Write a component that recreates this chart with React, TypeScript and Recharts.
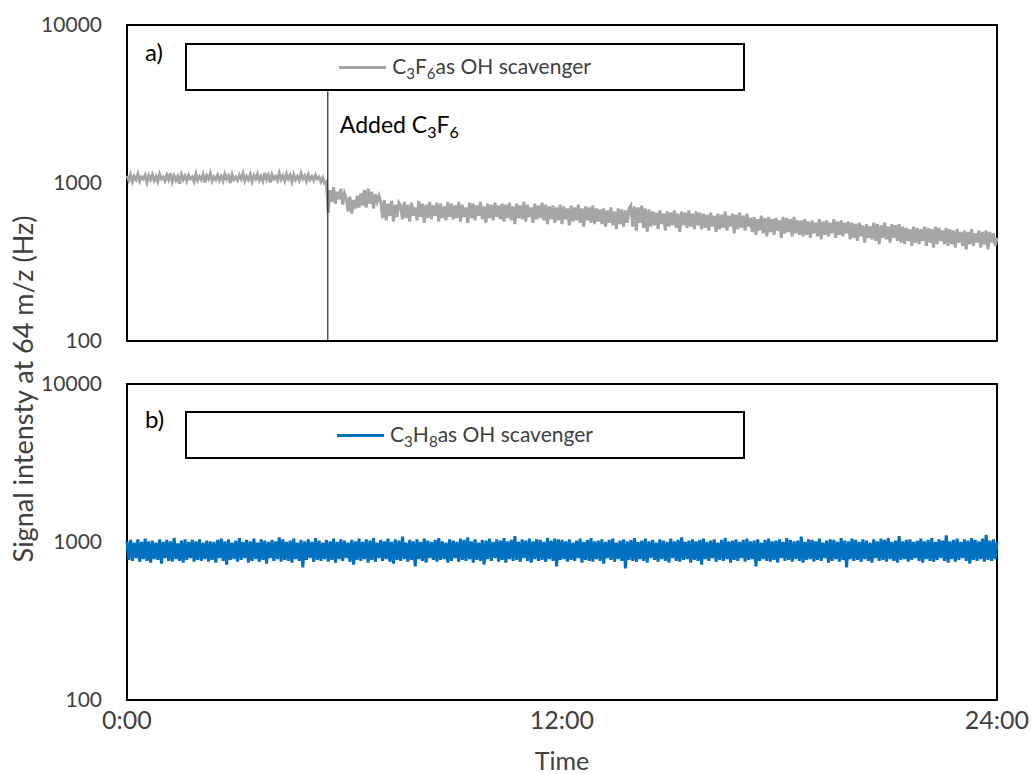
import {
  LineChart,
  Line,
  XAxis,
  YAxis,
  ReferenceArea,
  ReferenceLine,
  Legend,
} from "recharts";

const FONT = "Lato, 'Liberation Sans', sans-serif";

// sampling step of both runs, hours
const sampleStep = 0.05;
const timeTicks = [0, 12, 24];
const yTicks = [100, 1000, 10000];
const addedAt = 5.54; // time C3F6 was added

// a) C3F6 as OH scavenger, Hz
const c3f6Signal = [
  1110, 1040, 1130, 1020, 1100, 1050, 1140, 1030, 1090, 1060,
  1120, 1010, 1110, 1050, 1130, 1040, 1100, 1020, 1140, 1060,
  1090, 1030, 1120, 1050, 1150, 1020, 1110, 1040, 1100, 990,
  1130, 1050, 1110, 1030, 1120, 1060, 1090, 1020, 1140, 1040,
  1100, 1050, 1130, 1010, 1110, 1060, 1150, 1030, 1090, 1050,
  1120, 1040, 1100, 1030, 1140, 1060, 1110, 1000, 1130, 1050,
  1090, 1040, 1120, 1060, 1150, 1030, 1100, 1050, 1130, 1020,
  1110, 1060, 1140, 1040, 1100, 1030, 1160, 1050, 1120, 1010,
  1130, 1060, 1100, 1040, 1150, 1050, 1110, 1030, 1140, 1060,
  1120, 1020, 1130, 1050, 1100, 1040, 1150, 1060, 1110, 1030,
  1130, 1050, 1100, 1040, 1120, 1060, 1090, 1020, 1080, 1000,
  1020,
  650,
  900, 760, 940, 740, 880, 790, 920, 730, 860,
  800, 660, 820, 640, 780, 690, 830, 700,
  860, 720, 900, 700, 920, 740, 880, 690, 850, 760, 830,
  760, 600, 780, 580, 740, 620, 770, 570, 730, 610, 750,
  720, 590, 760, 600, 730, 570, 750, 620, 700, 580,
  770, 610, 740, 560, 730, 600, 760, 590, 720, 620,
  750, 570, 740, 600, 710, 580, 760, 610,
  740, 590, 720, 600, 760, 570, 730, 610, 700, 560,
  750, 600, 740, 580, 720, 620, 760, 590, 710, 560,
  740, 600, 730, 580, 750, 610, 720,
  590, 740, 570, 730, 600, 750, 580, 710, 550, 740,
  600, 720, 590, 760, 570, 730, 610, 700, 560, 740,
  590, 720, 600, 750, 580, 730, 550, 710,
  590, 720, 560, 700, 580, 730, 550, 710, 590, 690,
  540, 720, 570, 700, 580, 730, 560, 690, 530, 710,
  580, 700, 560, 720, 550, 690, 570,
  680, 550, 690, 530, 670, 560, 700, 540, 660, 510,
  690, 550, 680, 530, 670, 560, 690,
  720, 530, 710, 500, 700, 560, 720, 520, 690, 490, 680,
  530, 660, 540, 650, 510, 670, 550, 640, 500, 660,
  530, 650, 540, 670, 520, 640, 490, 660, 540, 650,
  520, 670, 530, 640, 510, 660, 540, 650,
  510, 640, 520, 630, 500, 650, 530, 620, 490, 640,
  510, 630, 520, 660, 500, 620, 530, 640, 480, 630,
  510, 650, 520, 620, 500, 640, 530,
  600, 490, 610, 470, 590, 500, 620, 480, 600, 460,
  610, 490, 590, 470, 600, 500, 580, 450, 610, 480,
  600, 490, 590, 460, 610, 480, 580, 470,
  580, 460, 590, 470, 570, 450, 580, 480, 560, 460,
  590, 440, 570, 470, 580, 460, 560, 480, 590, 450,
  570, 470, 580, 460, 560, 480, 570,
  440, 560, 450, 550, 430, 560, 460, 540, 420, 550,
  450, 530, 440, 560, 430, 550, 410, 540, 450, 560,
  440, 530, 420, 550, 450, 540, 430, 550,
  420, 530, 410, 520, 430, 510, 400, 530, 420, 520,
  410, 510, 430, 530, 400, 520, 420, 510, 390, 530,
  410, 520, 430, 500, 410, 520, 400, 510,
  410, 500, 390, 510, 420, 490, 400, 500, 380, 490,
  410, 510, 400, 480, 420, 500, 390, 490, 410, 500,
  380, 490, 420, 480, 400, 450,
];

// b) C3H8 as OH scavenger, Hz
const c3h8Signal = [
  1010, 770, 1030, 760, 990, 790, 1040, 750, 1000, 780,
  1050, 760, 1010, 740, 1020, 780, 990, 770, 1040, 730,
  1000, 790, 1030, 760, 1010, 750, 1060, 780, 980, 760,
  1020, 740, 1040, 770, 1000, 790, 1030, 750, 1010, 770,
  1040, 760, 990, 780, 1020, 750, 1010, 770, 1000, 740,
  1030, 790, 1050, 760, 1010, 720, 1040, 770, 990, 780,
  1020, 750, 1060, 770, 1000, 790, 1030, 740, 1010, 760,
  1050, 780, 990, 750, 1040, 770, 1020, 730, 1000, 790,
  1030, 760, 1010, 780, 1070, 750, 1040, 770, 1000, 760,
  1020, 740, 1050, 780, 990, 760, 1030, 690, 1010, 770,
  1040, 790, 1000, 750, 1060, 770, 1020, 760, 990, 780,
  1030, 750, 1010, 770, 1050, 740, 1000, 780, 1040, 760,
  1020, 790, 990, 750, 1030, 720, 1010, 770, 1050, 760,
  1000, 780, 1040, 740, 1020, 770, 1060, 750, 990, 790,
  1030, 760, 1010, 780, 1050, 750, 1000, 730, 1040, 770,
  1020, 760, 1080, 780, 990, 750, 1030, 770, 1010, 700,
  1040, 780, 1000, 760, 1050, 740, 1020, 790, 1000, 770,
  1030, 750, 1060, 770, 1010, 780, 990, 740, 1040, 760,
  1020, 790, 1000, 750, 1050, 770, 1030, 760, 1070, 780,
  1010, 740, 1040, 770, 990, 760, 1030, 720, 1020, 780,
  1050, 760, 1000, 790, 1040, 750, 1020, 770, 1060, 740,
  1010, 780, 1030, 760, 1090, 770, 1000, 750, 1040, 790,
  1020, 760, 1050, 740, 1010, 780, 1040, 760, 1030, 770,
  1000, 750, 1060, 780, 1020, 760, 1050, 700, 1040, 770,
  1030, 780, 1010, 750, 1040, 770, 990, 760, 1020, 790,
  1050, 740, 1000, 770, 1030, 760, 1060, 750, 1010, 780,
  1020, 760, 1040, 730, 1000, 790, 1030, 770, 1050, 750,
  990, 780, 1020, 760, 1040, 680, 1010, 770, 1030, 760,
  1060, 750, 1000, 780, 1020, 760, 1050, 740, 1010, 790,
  1030, 770, 990, 750, 1040, 780, 1020, 760, 1000, 740,
  1050, 790, 1010, 760, 1030, 750, 1070, 770, 1000, 780,
  1020, 740, 1040, 770, 1010, 760, 1030, 720, 1050, 780,
  1000, 760, 1020, 790, 1040, 750, 990, 770, 1030, 760,
  1060, 780, 1010, 740, 1020, 770, 1040, 760, 1000, 790,
  1030, 750, 1050, 770, 1010, 780, 1020, 700, 1040, 760,
  990, 780, 1030, 760, 1050, 750, 1010, 770, 1020, 740,
  1040, 790, 1000, 760, 1060, 770, 1030, 750, 1010, 780,
  1020, 760, 1080, 740, 1000, 770, 1040, 780, 1030, 750,
  1010, 770, 1050, 760, 990, 790, 1020, 740, 1040, 760,
  1030, 780, 1000, 750, 1060, 770, 1020, 690, 1010, 780,
  1050, 760, 1030, 770, 1000, 750, 1040, 780, 1020, 760,
  990, 740, 1040, 790, 1010, 760, 1050, 770, 1030, 750,
  1060, 780, 1000, 760, 1020, 740, 1090, 770, 1010, 780,
  1030, 750, 1040, 770, 1000, 790, 1020, 760, 1050, 740,
  1010, 780, 1030, 760, 1060, 750, 1000, 770, 1040, 790,
  1020, 760, 1100, 740, 1010, 780, 1030, 750, 1050, 770,
  1000, 790, 1040, 760, 1020, 730, 1060, 770, 1030, 760,
  1010, 780, 1050, 750, 1110, 770, 1020, 760, 1040, 780,
  1000,
];

const dataA = c3f6Signal.map((v, i) => ({ t: i * sampleStep, v }));
const dataB = c3h8Signal.map((v, i) => ({ t: i * sampleStep, v }));

const yTickStyle = { fontSize: 21, fill: "#404040", fontFamily: FONT };
const xTickStyle = { fontSize: 25, fill: "#404040", fontFamily: FONT };

function LegendBox({ color, formula }: { color: string; formula: any }) {
  return (
    <div
      style={{
        boxSizing: "border-box",
        width: 560,
        height: 48,
        border: "2px solid #000",
        background: "#fff",
        display: "flex",
        alignItems: "center",
        justifyContent: "center",
        fontFamily: FONT,
        fontSize: 21,
        color: "#404040",
      }}
    >
      <span
        style={{
          display: "inline-block",
          width: 47,
          height: 3,
          background: color,
          marginRight: 6,
        }}
      />
      <span>{formula}as OH scavenger</span>
    </div>
  );
}

const subStyle = { fontSize: "0.72em", verticalAlign: "-0.3em" };

function AddedLabel(props: any) {
  const vb = props.viewBox || {};
  const x = (vb.x ?? 0) + 12;
  const y = (vb.y ?? 0) + 42;
  return (
    <text x={x} y={y} fontFamily={FONT} fontSize={23} fill="#000">
      Added C
      <tspan fontSize={16} dy={5}>3</tspan>
      <tspan dy={-5}>F</tspan>
      <tspan fontSize={16} dy={5}>6</tspan>
    </text>
  );
}

function PanelLetter({ text, top }: { text: string; top: number }) {
  return (
    <div
      style={{
        position: "absolute",
        left: 145,
        top,
        fontFamily: FONT,
        fontSize: 24,
        color: "#000",
      }}
    >
      {text}
    </div>
  );
}

export default function App() {
  return (
    <div
      style={{
        position: "absolute",
        left: 0,
        top: 0,
        width: 1031,
        height: 774,
        background: "#fff",
      }}
    >
      <div style={{ position: "absolute", left: 0, top: 0 }}>
        <LineChart
          width={1031}
          height={360}
          data={dataA}
          margin={{ top: 25, right: 34, bottom: 19, left: 0 }}
        >
          <XAxis type="number" dataKey="t" domain={[0, 24]} hide />
          <YAxis
            scale="log"
            domain={[100, 10000]}
            ticks={yTicks}
            allowDataOverflow
            width={127}
            axisLine={false}
            tickLine={false}
            tickSize={0}
            tickMargin={25}
            tick={yTickStyle}
          />
          <ReferenceArea
            x1={0}
            x2={24}
            y1={100}
            y2={10000}
            fill="none"
            stroke="#000"
            strokeWidth={2}
          />
          <Line
            type="linear"
            dataKey="v"
            stroke="#A5A5A5"
            strokeWidth={3}
            dot={false}
            isAnimationActive={false}
          />
          <ReferenceLine
            segment={[
              { x: addedAt, y: 100 },
              { x: addedAt, y: 3800 },
            ]}
            stroke="#000"
            strokeWidth={1}
            label={<AddedLabel />}
          />
          <Legend
            layout="vertical"
            align="center"
            verticalAlign="middle"
            wrapperStyle={{ left: 185, top: 43, width: 560 }}
            content={() => (
              <LegendBox
                color="#A5A5A5"
                formula={
                  <>
                    C<span style={subStyle}>3</span>F
                    <span style={subStyle}>6</span>
                  </>
                }
              />
            )}
          />
        </LineChart>
      </div>

      <div style={{ position: "absolute", left: 0, top: 360 }}>
        <LineChart
          width={1031}
          height={414}
          data={dataB}
          margin={{ top: 24, right: 34, bottom: 0, left: 0 }}
        >
          <XAxis
            type="number"
            dataKey="t"
            domain={[0, 24]}
            ticks={timeTicks}
            tickFormatter={(t: number) => `${t}:00`}
            height={74}
            axisLine={false}
            tickLine={false}
            tickSize={0}
            tickMargin={11}
            tick={xTickStyle}
            label={{
              value: "Time",
              position: "insideBottom",
              offset: 4,
              style: { fontSize: 25, fill: "#404040", fontFamily: FONT },
            }}
          />
          <YAxis
            scale="log"
            domain={[100, 10000]}
            ticks={yTicks}
            allowDataOverflow
            width={127}
            axisLine={false}
            tickLine={false}
            tickSize={0}
            tickMargin={25}
            tick={yTickStyle}
          />
          <ReferenceArea
            x1={0}
            x2={24}
            y1={100}
            y2={10000}
            fill="none"
            stroke="#000"
            strokeWidth={2}
          />
          <Line
            type="linear"
            dataKey="v"
            stroke="#0070C0"
            strokeWidth={3}
            dot={false}
            isAnimationActive={false}
          />
          <Legend
            layout="vertical"
            align="center"
            verticalAlign="middle"
            wrapperStyle={{ left: 185, top: 51, width: 560 }}
            content={() => (
              <LegendBox
                color="#0070C0"
                formula={
                  <>
                    C<span style={subStyle}>3</span>H
                    <span style={subStyle}>8</span>
                  </>
                }
              />
            )}
          />
        </LineChart>
      </div>

      <PanelLetter text="a)" top={37} />
      <PanelLetter text="b)" top={404} />

      <div
        style={{
          position: "absolute",
          left: 22,
          top: 389,
          transform: "translate(-50%, -50%) rotate(-90deg)",
          whiteSpace: "nowrap",
          fontFamily: FONT,
          fontSize: 27,
          color: "#404040",
        }}
      >
        Signal intensty at 64 m/z (Hz)
      </div>
    </div>
  );
}
